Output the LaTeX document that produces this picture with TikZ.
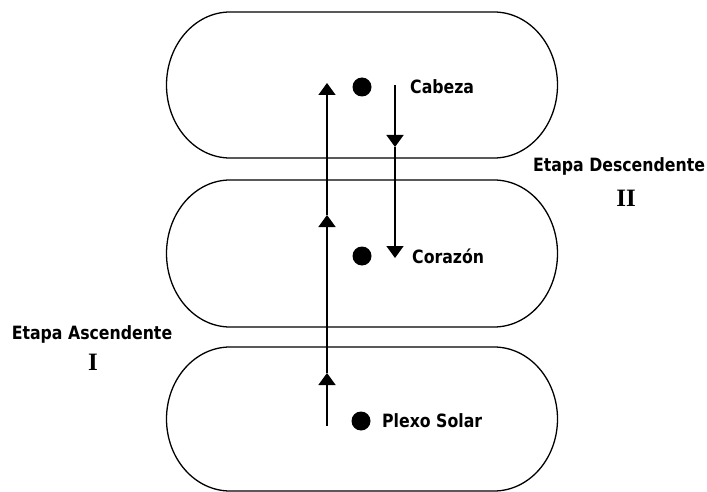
\documentclass[tikz,border=0pt]{standalone}
\usepackage{fontspec}
\setmainfont{DejaVu Sans}
\newfontfamily\rotulo[FakeStretch=0.86]{DejaVu Sans}
\newfontfamily\romfont{Liberation Serif}
\usetikzlibrary{arrows.meta}
\tikzset{
  bola/.style={circle,fill,inner sep=0pt,minimum size=19pt},
  etiq/.style={anchor=west,inner sep=0pt,text height=13pt,text depth=0pt,
    font=\rotulo\fontsize{18.3}{21}\selectfont\bfseries},
  etapa/.style={inner sep=0pt,text height=13pt,text depth=0pt,
    font=\rotulo\fontsize{18.3}{21}\selectfont\bfseries},
  numeral/.style={inner sep=0pt,font=\romfont\fontsize{25}{27}\selectfont\bfseries},
  flecha/.style={line width=1.6pt,-{Triangle[length=12pt,width=17pt]}},
  borde/.style={line width=1.3pt},
}
% capsula: #1 = y de arriba, #2 = y de abajo
\newcommand\capsula[2]{%
  \pgfmathsetmacro\radioy{(#2-#1)/2}
  \draw[borde] (230,#1) -- (494,#1)
    arc[start angle=90,end angle=-90,x radius=63.5pt,y radius=\radioy pt]
    -- (230,#2)
    arc[start angle=270,end angle=90,x radius=63.5pt,y radius=\radioy pt] -- cycle;}
\begin{document}
\begin{tikzpicture}[x=1pt,y=-1pt]
  \fill[white] (0,0) rectangle (707,492);
  \useasboundingbox (0,0) rectangle (707,492);
  \capsula{12}{158}
  \capsula{180}{327}
  \capsula{347}{491}
  % centros
  \node[bola] (dcab) at (362,87) {};
  \node[bola] (dcor) at (362,256) {};
  \node[bola] (dple) at (361,421) {};
  \node[etiq] (cabeza) at (410,87) {Cabeza};
  \node[etiq] (corazon) at (412,257) {Corazón};
  \node[etiq] (plexo) at (382,421) {Plexo Solar};
  % etapas
  \node[etapa] (asc) at (92,333) {Etapa Ascendente};
  \node[numeral] (uno) at (93,362) {I};
  \node[etapa] (desc) at (619,165) {Etapa Descendente};
  \node[numeral] (dos) at (626,198) {II};
  % flecha ascendente
  \coordinate (s0) at (327,426);
  \coordinate (s1) at (327,373);
  \coordinate (s2) at (327,215);
  \coordinate (s3) at (327,83);
  \draw[flecha] (s0) -- (s1);
  \draw[flecha] (s1) -- (s2);
  \draw[flecha] (s2) -- (s3);
  % flecha descendente
  \coordinate (b0) at (395,85);
  \coordinate (b1) at (395,147);
  \coordinate (b2) at (395,258);
  \draw[flecha] (b0) -- (b1);
  \draw[flecha] (b1) -- (b2);
\end{tikzpicture}
\end{document}
